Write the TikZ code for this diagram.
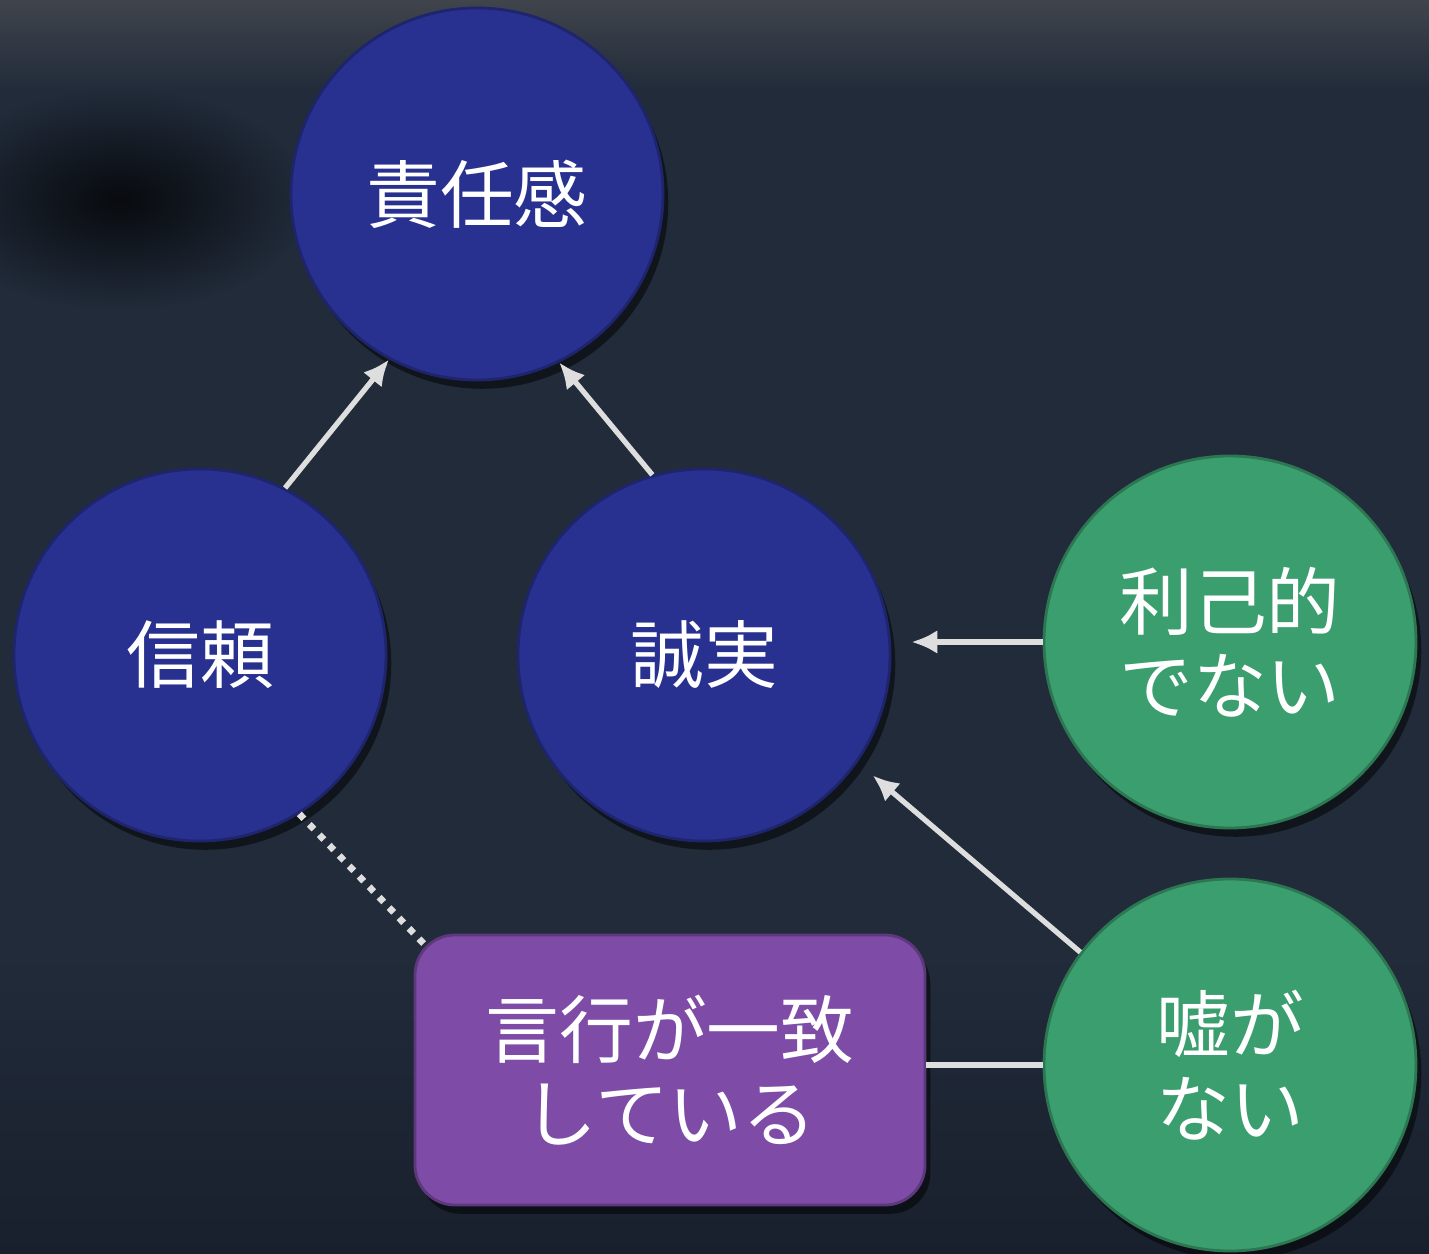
\documentclass[tikz,border=0pt]{standalone}
\usepackage{fontspec}
\setmainfont{Noto Sans CJK JP}
\usetikzlibrary{arrows.meta,positioning,shadows,fadings}
\definecolor{bgtop}{HTML}{40444C}
\definecolor{bgmid}{HTML}{212B3A}
\definecolor{bgbot}{HTML}{19202D}
\definecolor{coreblue}{HTML}{283190}
\definecolor{causegreen}{HTML}{3A9E6E}
\definecolor{deedpurple}{HTML}{7E4BA6}
\definecolor{linegray}{HTML}{DEDEDE}
\tikzfading[name=smudge, inner color=transparent!0, outer color=transparent!100]
\tikzset{>={Latex[length=2.6mm,width=2.4mm]}}
\tikzset{bubble/.style={circle, minimum size=3.72cm, inner sep=0pt, text=white, align=center,
    font=\fontsize{21}{24}\selectfont, line width=0.8pt,
    drop shadow={shadow xshift=1.5pt, shadow yshift=-2.5pt, fill=black, opacity=.5}}}
\tikzset{%
    core/.style={bubble, fill=coreblue, draw=coreblue!75!black},%
    cause/.style={bubble, fill=causegreen, draw=causegreen!75!black},%
    deed/.style={rectangle, rounded corners=4mm, minimum width=5.1cm, minimum height=2.7cm,
        inner sep=0pt, text=white, align=center, font=\fontsize{21}{24}\selectfont,
        fill=deedpurple, draw=deedpurple!75!black, line width=0.8pt,
        drop shadow={shadow xshift=1.5pt, shadow yshift=-2.5pt, fill=black, opacity=.5}},%
    arr/.style={->, line width=1.5pt, draw=linegray},%
    link/.style={line width=1.5pt, draw=linegray},%
    dots/.style={line width=1.9pt, draw=linegray, dash pattern=on 1.9pt off 2.2pt}%
}

\begin{document}
\begin{tikzpicture}
      \useasboundingbox (0,0) rectangle (14.29,-12.54);
      % background
      \fill[bgmid] (0,0) rectangle (14.29,-12.54);
      \shade[top color=bgtop, bottom color=bgmid] (0,0) rectangle (14.29,-0.9);
      \shade[top color=bgmid, bottom color=bgbot] (0,-9.5) rectangle (14.29,-12.54);
      \begin{scope}
        \clip (0,0) rectangle (14.29,-12.54);
        \fill[black, opacity=.75, path fading=smudge] (1.2,-2.0) ellipse (1.9 and 1.1);
      \end{scope}

      % nodes
      \node[core] (resp) at (4.77,-1.94) {責任感};
      \node[core] (trust) at (2.00,-6.55) {信頼};
      \node[core] (honest) at (7.04,-6.55) {誠実};
      \node[cause] (unselfish) at (12.30,-6.42) {利己的\\でない};
      \node[cause] (nolie) at (12.30,-10.65) {嘘が\\ない};
      \node[deed] (consist) at (6.70,-10.70) {言行が一致\\している};

      % connectors
      \draw[arr] (trust.63) -- (resp.242);
      \draw[arr] (honest.106) -- (resp.296);
      \draw[arr, shorten >=2mm] (unselfish.west) -- (honest.east |- unselfish.west);
      \draw[arr, shorten >=2mm] (nolie.143) -- (honest.325);
      \draw[link] (consist.east |- nolie.west) -- (nolie.west);
      \draw[dots] (consist.north west) ++(0.1,-0.1) -- (trust.302);
\end{tikzpicture}
\end{document}
